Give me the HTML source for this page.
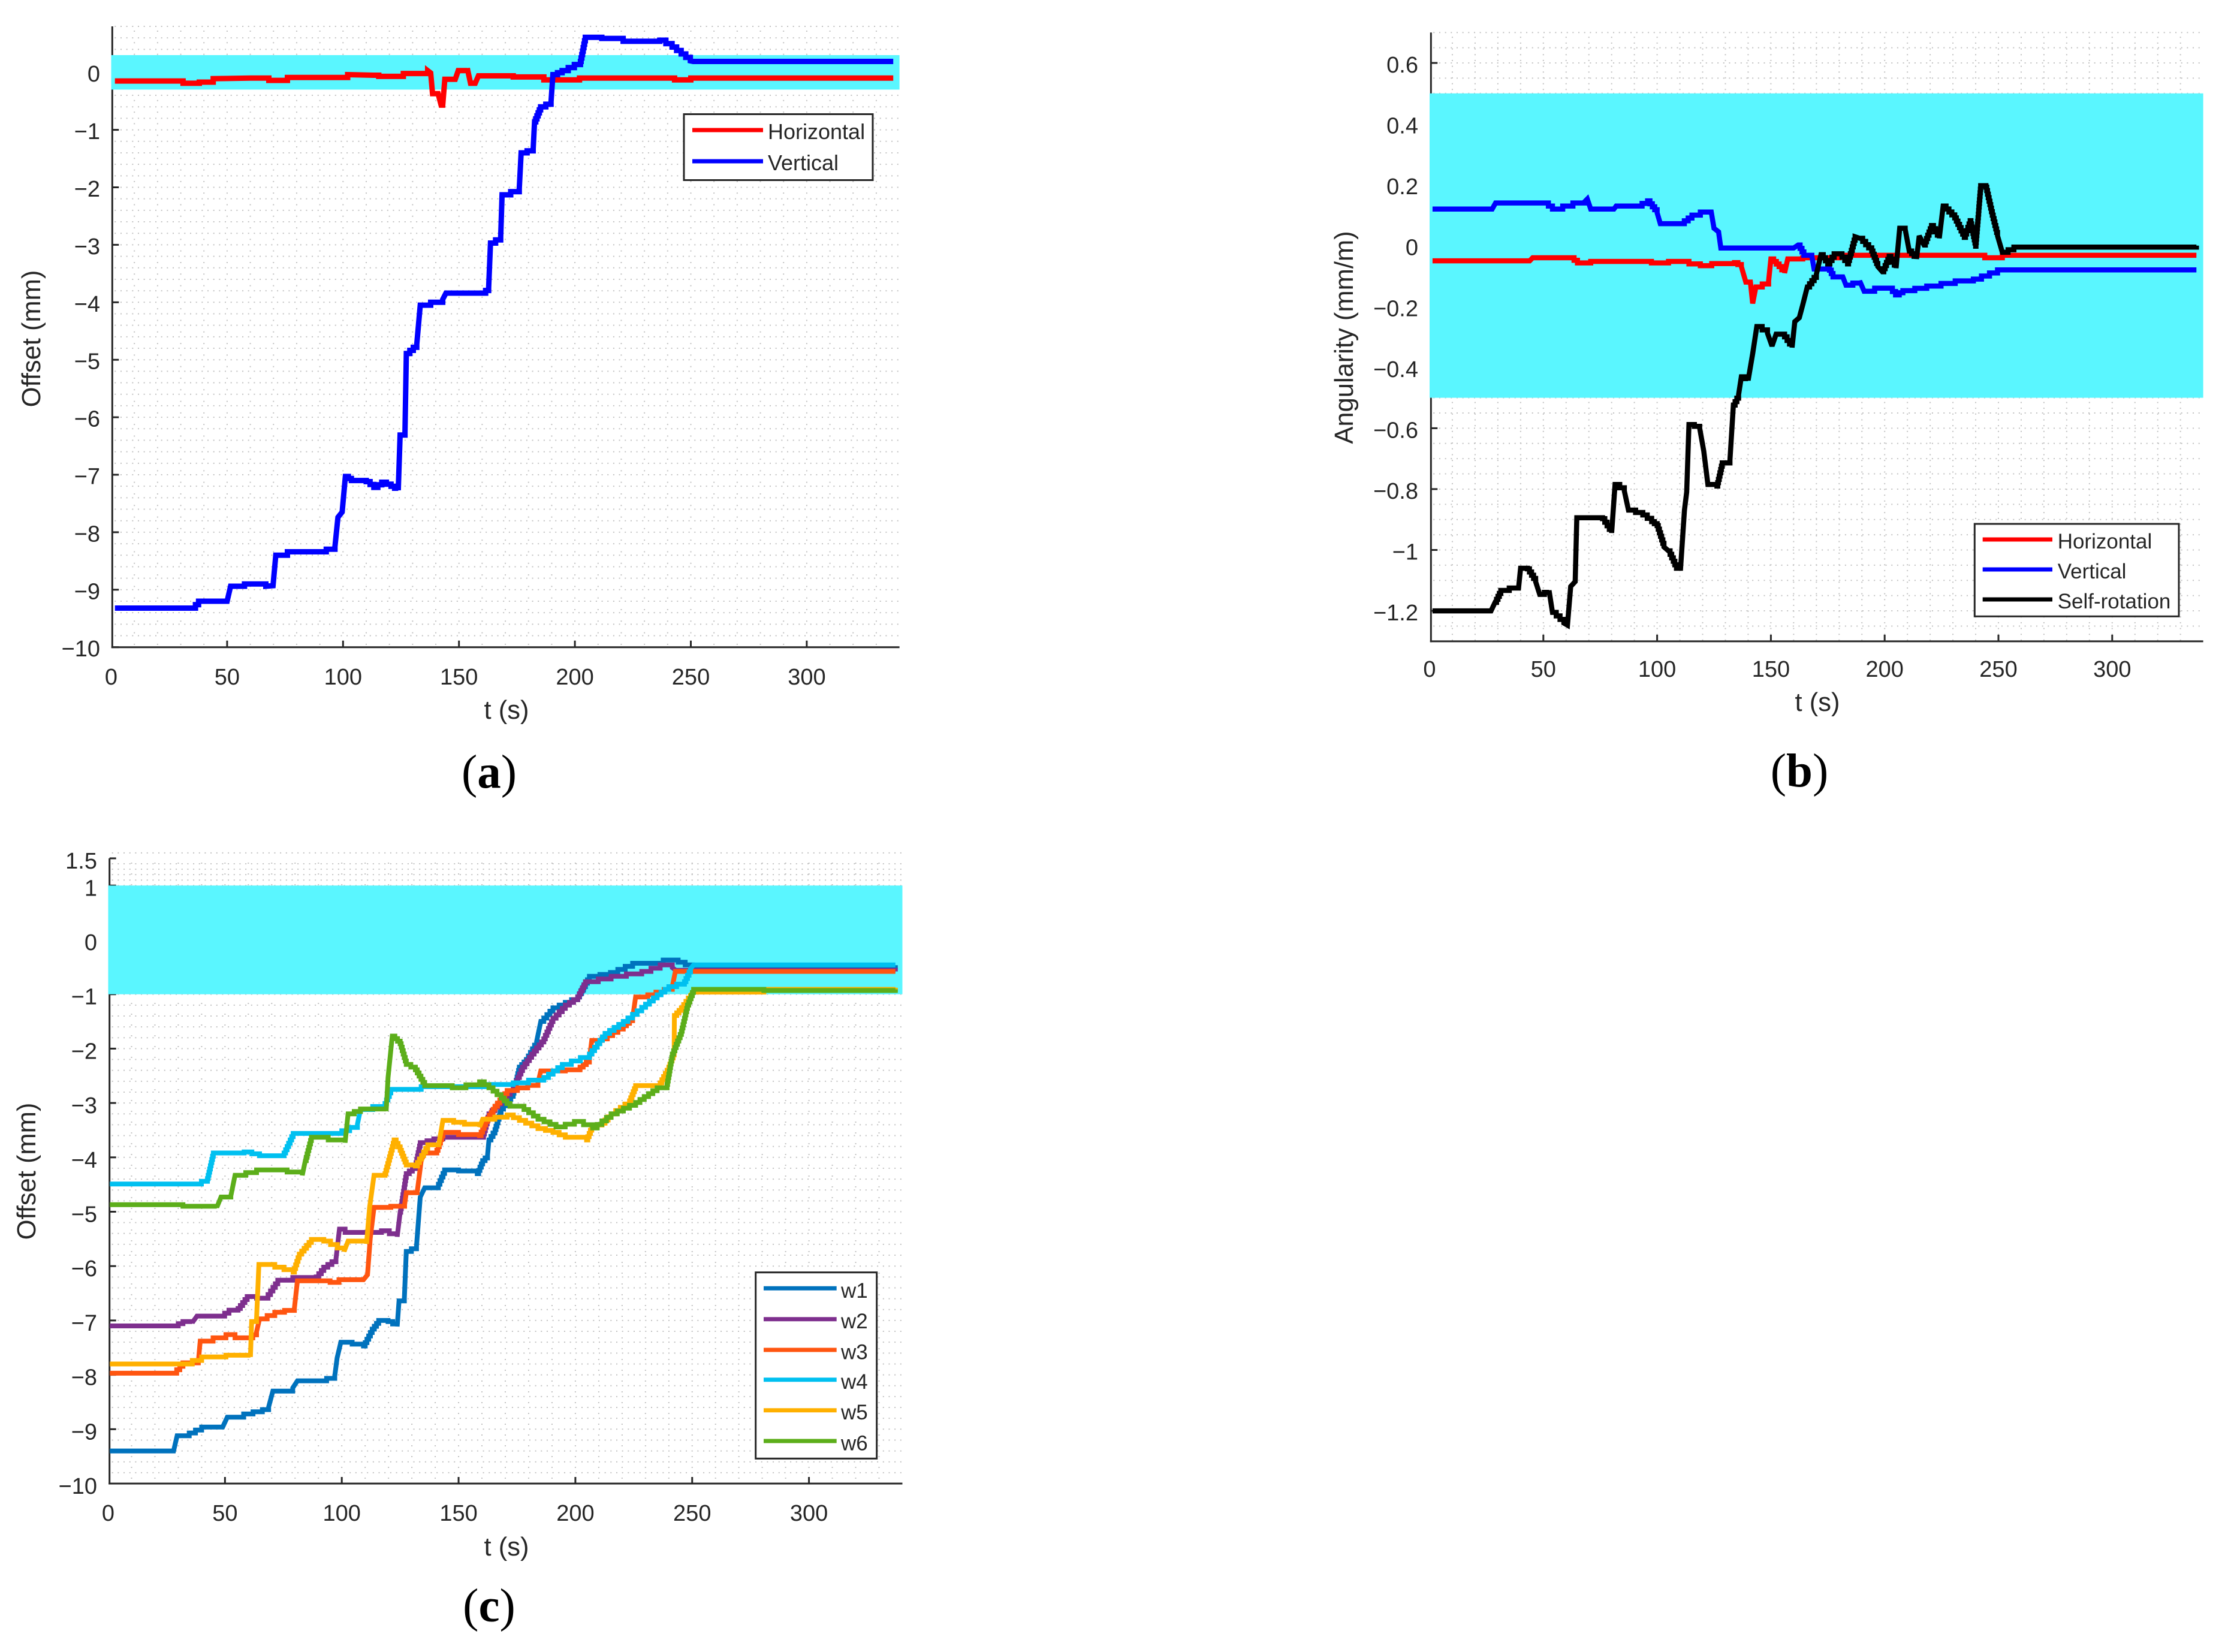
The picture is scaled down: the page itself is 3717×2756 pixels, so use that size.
<!DOCTYPE html>
<html lang="en">
<head>
<meta charset="utf-8">
<title>Offset and angularity charts</title>
<style>
html,body{margin:0;padding:0;background:#fff;}
svg{display:block;}
text{font-family:"Liberation Sans",sans-serif;fill:#262626;}
.cap{font-family:"Liberation Serif",serif;fill:#000;}
</style>
</head>
<body>
<svg id="figure" xmlns="http://www.w3.org/2000/svg" width="3717" height="2756" viewBox="0 0 3717 2756">
<rect width="3717" height="2756" fill="#fff"/>
</svg>
<script>
const xTickValues=[0,50,100,150,200,250,300];
const aYTicks=[-10,-9,-8,-7,-6,-5,-4,-3,-2,-1,0];
const bYTicks=[-1.2,-1,-0.8,-0.6,-0.4,-0.2,0,0.2,0.4,0.6];
const cYTicks=[-10,-9,-8,-7,-6,-5,-4,-3,-2,-1,0,1,1.5];

const aVertical=[[1.6,-9.32],[35,-9.32],[37.7,-9.2],[50,-9.2],[51.5,-8.94],[57.5,-8.9],[66.7,-8.94],[69.8,-8.93],[71,-8.4],[76,-8.34],[89,-8.34],[96.5,-8.25],[97.8,-7.74],[99.6,-7.65],[101,-7.03],[103.6,-7.1],[110,-7.12],[113.3,-7.22],[116.7,-7.13],[120.7,-7.2],[123.8,-7.27],[124.6,-6.31],[126.7,-6.27],[127.3,-4.89],[131.8,-4.73],[133.3,-4.05],[137.8,-4],[143,-3.95],[144.4,-3.84],[160.2,-3.84],[162.8,-3.75],[163.6,-2.97],[168,-2.86],[168.6,-2.13],[176,-2.02],[176.8,-1.4],[182,-1.33],[182.6,-0.86],[185.2,-0.6],[189.7,-0.51],[190.5,-0.04],[194.5,0.03],[202.4,0.19],[204.5,0.61],[211.6,0.59],[220.8,0.54],[236.6,0.56],[241.9,0.44],[249.8,0.2],[251,0.19],[337.3,0.19]];
const aHorizontal=[[1.6,-0.15],[23,-0.15],[31,-0.19],[38,-0.17],[44,-0.11],[60,-0.1],[68,-0.14],[76,-0.09],[89,-0.09],[102,-0.04],[113,-0.05],[115.4,-0.07],[126,-0.02],[136.5,0.03],[137.8,-0.01],[138.6,-0.37],[141,-0.37],[142.3,-0.57],[143,-0.57],[143.9,-0.12],[148.4,-0.12],[149.7,0.03],[153.6,0.07],[155,-0.19],[157,-0.19],[158.4,-0.06],[173.4,-0.08],[186.6,-0.13],[202,-0.1],[228.7,-0.1],[243,-0.13],[250,-0.1],[337.3,-0.1]];

const bHorizontal=[[1.3,-0.05],[44,-0.05],[45.3,-0.04],[62,-0.04],[65,-0.057],[70.8,-0.052],[86,-0.052],[97.5,-0.057],[105,-0.052],[114,-0.06],[119,-0.066],[124,-0.059],[134,-0.056],[137,-0.069],[139,-0.12],[141,-0.12],[142,-0.19],[143.4,-0.136],[149,-0.116],[150,-0.044],[153.6,-0.069],[156,-0.09],[157.4,-0.044],[164,-0.04],[180,-0.032],[239,-0.032],[244,-0.04],[251.7,-0.032],[337,-0.032]];
const bVertical=[[1.3,0.12],[27.5,0.12],[29,0.14],[39,0.14],[50.4,0.14],[54,0.12],[63,0.14],[68,0.143],[69.3,0.153],[70.8,0.12],[81,0.12],[82,0.13],[91,0.13],[95.8,0.147],[100,0.108],[101.4,0.072],[110.3,0.072],[115.3,0.1],[119,0.11],[123.8,0.11],[125,0.057],[127,0.045],[128,-0.008],[150,-0.008],[160,-0.008],[162,0.002],[164.5,-0.032],[168,-0.035],[169,-0.077],[175,-0.07],[177.3,-0.103],[181.6,-0.103],[183,-0.13],[189,-0.116],[191,-0.15],[195.6,-0.14],[202,-0.14],[204.8,-0.162],[208,-0.148],[218.5,-0.133],[231,-0.116],[239,-0.11],[249.6,-0.08],[337,-0.08]];
const bSelfRotation=[[1.3,-1.2],[27,-1.2],[28.8,-1.172],[31.3,-1.133],[35,-1.125],[39,-1.133],[40,-1.06],[43,-1.062],[46.6,-1.104],[48.4,-1.146],[52.5,-1.133],[54,-1.205],[59,-1.24],[60.6,-1.247],[62,-1.12],[64,-1.104],[64.7,-0.894],[76,-0.897],[80,-0.944],[81.5,-0.785],[85.6,-0.806],[87.4,-0.869],[93.7,-0.885],[97.6,-0.907],[100,-0.92],[103,-0.99],[105,-1.003],[108.5,-1.06],[110.3,-1.06],[112,-0.869],[113,-0.81],[114,-0.588],[118.7,-0.6],[120.5,-0.675],[122.3,-0.785],[126.3,-0.79],[128.6,-0.714],[132,-0.704],[133.5,-0.524],[135.8,-0.49],[137,-0.431],[140,-0.443],[142,-0.355],[143.8,-0.266],[148.5,-0.288],[150.5,-0.33],[152.3,-0.291],[156,-0.3],[159.3,-0.335],[160.5,-0.25],[162.5,-0.237],[164,-0.195],[166,-0.136],[170,-0.094],[172,-0.03],[175,-0.06],[177.8,-0.027],[180,-0.027],[183.7,-0.06],[187,0.029],[189,0.024],[194.3,-0.018],[197,-0.069],[199,-0.086],[202,-0.035],[205,-0.074],[206.6,0.057],[209,0.054],[210.8,-0.018],[214,-0.044],[215.2,0.032],[217.3,0.002],[220.6,0.066],[224,0.024],[225.7,0.13],[230.8,0.091],[235,0.027],[237.6,0.082],[240,-0.002],[242.2,0.197],[244.5,0.192],[247.3,0.1],[249.6,0.032],[251.7,-0.022],[256.8,-0.005],[267,-0.005],[337,0]];

const cW1=[[0.7,-9.4],[28,-9.4],[29.5,-9.12],[34.7,-9.07],[40,-8.96],[49,-8.96],[51,-8.78],[58,-8.72],[66,-8.64],[68.7,-8.59],[70.5,-8.3],[79,-8.24],[81,-8.11],[90,-8.11],[97,-8.02],[98,-7.69],[99.6,-7.4],[109.3,-7.47],[113,-7.16],[115.8,-7],[119.8,-7.02],[123.7,-7.11],[124.5,-6.64],[126.8,-6.59],[127.6,-5.73],[132,-5.63],[133.6,-4.73],[135.5,-4.56],[140.7,-4.56],[144,-4.23],[150,-4.25],[158,-4.3],[160.3,-4.06],[162.4,-3.96],[163,-3.68],[165.6,-3.49],[168.2,-3.11],[173.4,-2.82],[176,-2.34],[179,-2.2],[183.4,-1.87],[185.2,-1.5],[190.4,-1.25],[201,-1.05],[206,-0.67],[215,-0.6],[224.5,-0.43],[237.6,-0.37],[244,-0.41],[250,-0.51],[337,-0.53]];
const cW2=[[0.7,-7.1],[28,-7.1],[32,-7.02],[36,-7.04],[38,-6.92],[48,-6.92],[51.7,-6.81],[55.6,-6.78],[59.5,-6.56],[63.5,-6.59],[67.4,-6.59],[72.6,-6.26],[79,-6.21],[88,-6.26],[92.3,-6.02],[97.5,-5.87],[99,-5.32],[101.4,-5.38],[109.3,-5.38],[117,-5.35],[123.7,-5.46],[125,-5.01],[127.6,-4.3],[131.5,-4.16],[133.6,-3.73],[139.4,-3.66],[143.3,-3.63],[160.3,-3.63],[163,-3.2],[168.2,-2.96],[173.4,-2.72],[177.4,-2.34],[181.3,-2.1],[186.5,-1.82],[190.4,-1.44],[195.7,-1.2],[201,-1.05],[204.3,-0.77],[215.3,-0.67],[228.4,-0.58],[236.3,-0.46],[241.5,-0.51],[243,-0.56],[337,-0.58]];
const cW3=[[0.7,-7.97],[28,-7.97],[32,-7.78],[38.6,-7.76],[39.4,-7.38],[50.4,-7.26],[54.3,-7.32],[60.3,-7.32],[63.5,-7.21],[64.8,-6.97],[71.3,-6.85],[79.7,-6.78],[81,-6.27],[95,-6.3],[98.8,-6.25],[109.3,-6.25],[111,-6.16],[112.2,-5.49],[113.8,-4.92],[121,-4.9],[126.9,-4.87],[127.6,-4.65],[132.3,-4.63],[134,-4.06],[135.5,-3.92],[140.7,-3.87],[143.3,-3.54],[150,-3.58],[159,-3.6],[161.6,-3.34],[165.6,-3.06],[170.8,-2.77],[184,-2.63],[185.2,-2.41],[195.7,-2.39],[202,-2.34],[206,-2.2],[207,-1.85],[211.4,-1.82],[220.5,-1.58],[224.5,-1.44],[225.8,-1.05],[231,-1.01],[241.5,-0.86],[242.8,-0.58],[337,-0.58]];
const cW4=[[0.7,-4.49],[37.3,-4.49],[42.5,-4.39],[45,-3.92],[58.2,-3.9],[64.8,-3.97],[75.3,-3.92],[79.2,-3.56],[100,-3.51],[106.7,-3.39],[108,-3.12],[118.5,-3.01],[121,-2.75],[134,-2.7],[163,-2.66],[173.4,-2.63],[186.5,-2.53],[194.4,-2.29],[206,-2.1],[212.7,-1.72],[220.5,-1.5],[228.4,-1.24],[235,-1.01],[240,-0.86],[246.7,-0.77],[249.3,-0.53],[250.6,-0.46],[337,-0.46]];
const cW5=[[0.7,-7.8],[32,-7.8],[40,-7.67],[50.4,-7.64],[60.9,-7.67],[61.4,-7.02],[63.5,-6.97],[64.5,-5.97],[71.3,-6.02],[79.2,-6.11],[81.8,-5.78],[87,-5.51],[92.3,-5.54],[101,-5.73],[102.7,-5.54],[110.6,-5.59],[111.9,-4.92],[113.8,-4.33],[118.5,-4.3],[122.4,-3.68],[125,-3.87],[127.6,-4.14],[131.5,-4.16],[136.8,-3.77],[141.5,-3.77],[143.3,-3.32],[152.5,-3.39],[159,-3.44],[160.3,-3.3],[170.8,-3.22],[178.7,-3.37],[184,-3.47],[190.4,-3.54],[195.7,-3.63],[204.8,-3.68],[207,-3.44],[211.4,-3.37],[215.3,-3.2],[223.2,-2.96],[225.8,-2.68],[236.3,-2.63],[240,-2.34],[242.3,-2.06],[242.4,-1.39],[245.4,-1.25],[249.3,-1.01],[250.6,-0.96],[280.7,-0.91],[337,-0.88]];
const cW6=[[0.7,-4.87],[26.8,-4.87],[32,-4.9],[46.5,-4.92],[48.3,-4.73],[52.5,-4.71],[54.3,-4.33],[63.5,-4.23],[76.6,-4.27],[83.1,-4.33],[84.4,-4.06],[87,-3.63],[101.4,-3.73],[102.7,-3.2],[108,-3.11],[119,-3.15],[119.8,-2.53],[121.6,-1.77],[125,-1.91],[127.6,-2.29],[131.5,-2.39],[135.5,-2.68],[147.3,-2.72],[159,-2.61],[163,-2.72],[168.2,-2.91],[172,-3.06],[176,-3.06],[184,-3.3],[191.7,-3.44],[199.6,-3.34],[207.4,-3.46],[215.3,-3.2],[225.8,-2.99],[235,-2.72],[239,-2.72],[241.5,-2.1],[245.4,-1.68],[248,-1.2],[250.6,-0.91],[280.7,-0.93],[337,-0.91]];

const svgNS='http://www.w3.org/2000/svg';
const root=document.getElementById('figure');
const axisColor='#262626';
const gridColor='#c2c2c2';
const bandColor='#5af6ff';

function mk(parent,tag,attrs){
  const el=document.createElementNS(svgNS,tag);
  for(const k in attrs){el.setAttribute(k,attrs[k]);}
  parent.appendChild(el);
  return el;
}
function fmt(v){return String(v).replace('-','\u2212');}

/* staircase path: sloped runs between samples are drawn in small sensor-like steps */
function stepPath(data,X,Y){
  let d='M'+X(data[0][0]).toFixed(1)+' '+Y(data[0][1]).toFixed(1);
  for(let i=1;i<data.length;i++){
    const xa=X(data[i-1][0]),ya=Y(data[i-1][1]),xb=X(data[i][0]),yb=Y(data[i][1]);
    const dx=xb-xa,dy=yb-ya;
    if(Math.abs(dy)<1||dx<8){
      d+='L'+xb.toFixed(1)+' '+yb.toFixed(1);
      continue;
    }
    const n=Math.max(1,Math.ceil(Math.abs(dy)/6));
    for(let s=1;s<=n;s++){
      const f=s/n;
      d+='H'+(xa+dx*f).toFixed(1)+'V'+(ya+dy*f).toFixed(1);
    }
  }
  return d;
}

function drawPanel(p){
  const g=mk(root,'g',{});
  
  
  const X=t=>p.x0+p.sx*t;
  const Y=v=>p.y0-p.sy*v;
  const top=Y(p.yMax),bottom=Y(p.yMin),right=X(340);

  /* minor grid */
  const gridG=mk(g,'g',{stroke:gridColor,'stroke-width':2,fill:'none'});
  
  
  for(let k=10;k<340;k+=10){
    const ln=mk(gridG,'line',{x1:X(k),x2:X(k),y1:top+p.colStart,y2:bottom,'stroke-dasharray':'2 '+(p.colPeriod-2)});
    
    
  }
  const rowCount=Math.round((p.yMax-p.yMin)/p.rowStep);
  for(let r=0;r<=rowCount;r++){
    const v=p.yMin+r*p.rowStep;
    if(r===0)continue;
    const ln=mk(gridG,'line',{x1:p.axisX+4,x2:right,y1:Y(v),y2:Y(v),'stroke-dasharray':'2 7.67'});
    
    
  }
  if(p.extraRows){
    for(let v=p.extraRows[0];v<p.extraRows[1];v+=p.extraRows[2]){
      const ln=mk(gridG,'line',{x1:p.axisX+4,x2:right,y1:Y(v),y2:Y(v),'stroke-dasharray':'2 7.67'});
      
      
    }
  }

  /* axes */
  const yAxis=mk(g,'line',{x1:p.axisX,x2:p.axisX,y1:top,y2:bottom+1.5,stroke:axisColor,'stroke-width':3});
  
  
  const xAxis=mk(g,'line',{x1:p.axisX-1.5,x2:right,y1:bottom,y2:bottom,stroke:axisColor,'stroke-width':3});
  
  

  xTickValues.forEach(t=>{
    if(t!==0){
      const m=mk(g,'line',{x1:X(t),x2:X(t),y1:bottom,y2:bottom-11,stroke:axisColor,'stroke-width':3});
      
      
    }
    const lb=mk(g,'text',{x:X(t)+p.xLabelShift,y:p.xLabelY,'text-anchor':'middle','font-size':38});
    
    
    lb.textContent=fmt(t);
  });
  p.yTicks.forEach(v=>{
    const m=mk(g,'line',{x1:p.axisX,x2:p.axisX+11,y1:Y(v),y2:Y(v),stroke:axisColor,'stroke-width':3});
    
    
    const lb=mk(g,'text',{x:p.yLabelX,y:Y(v)+p.yLabelDy,'text-anchor':'end','font-size':38});
    
    
    lb.textContent=fmt(v);
  });

  /* tolerance band */
  const band=mk(g,'rect',{x:p.x0,y:Y(p.band[1]),width:right-p.x0,height:Y(p.band[0])-Y(p.band[1]),fill:bandColor});
  
  

  /* series */
  p.series.forEach(s=>{
    const d=stepPath(s.data,X,Y);
    const path=mk(g,'path',{d:d,fill:'none',stroke:s.color,'stroke-width':p.lineWidth,'stroke-linejoin':'miter','stroke-miterlimit':3});
    
    
  });

  /* axis titles */
  const xt=mk(g,'text',{x:p.xTitle[0],y:p.xTitle[1],'text-anchor':'middle','font-size':43.5});
  
  
  xt.textContent='t (s)';
  const yt=mk(g,'text',{x:0,y:0,'text-anchor':'middle','font-size':43.5,transform:'translate('+p.yTitle[0]+' '+p.yTitle[1]+') rotate(-90)'});
  
  
  yt.textContent=p.yTitleText;

  /* legend */
  const L=p.legend;
  const lg=mk(g,'g',{});
  
  
  mk(lg,'rect',{x:L.x,y:L.y,width:L.w,height:L.h,fill:'#fff',stroke:axisColor,'stroke-width':3});
  p.series.forEach((s,i)=>{
    const entry=mk(lg,'g',{});
    
    
    const ly=L.rows[i];
    mk(entry,'line',{x1:L.lineX[0],x2:L.lineX[1],y1:ly,y2:ly,stroke:s.color,'stroke-width':7});
    const t=mk(entry,'text',{x:L.textX,y:ly+L.textDy,'font-size':L.font});
    t.textContent=s.label;
  });

  /* caption */
  const cap=mk(g,'text',{x:p.cap[0],y:p.cap[1],'text-anchor':'middle','font-size':79,class:'cap'});
  
  
  cap.appendChild(document.createTextNode('('));
  const bold=mk(cap,'tspan',{'font-weight':'bold'});
  bold.textContent=p.capLetter;
  cap.appendChild(document.createTextNode(')'));
}

drawPanel({
  id:'panel-a',x0:185.5,sx:3.868,y0:120.7,sy:95.9,yMin:-10,yMax:0.8,axisX:187.3,
  rowStep:0.2,colPeriod:19.3,colStart:7,band:[-0.3,0.3],yTicks:aYTicks,lineWidth:9,
  xLabelShift:0,xLabelY:1142,yLabelX:167,yLabelDy:15.5,
  xTitle:[845,1199],yTitle:[67,565],yTitleText:'Offset (mm)',
  legend:{x:1141,y:190.5,w:315,h:110,font:36,lineX:[1155,1273],textX:1281,textDy:15,rows:[217,269]},
  cap:[816,1314],capLetter:'a',
  series:[
    {key:'horizontal',label:'Horizontal',color:'#ff0000',data:aHorizontal},
    {key:'vertical',label:'Vertical',color:'#0000ff',data:aVertical}
  ]
});
drawPanel({
  id:'panel-b',x0:2385,sx:3.796,y0:409.7,sy:507.8,yMin:-1.3,yMax:0.7,axisX:2387.3,
  rowStep:0.05,colPeriod:9.67,colStart:7,band:[-0.5,0.5],yTicks:bYTicks,lineWidth:8.5,
  xLabelShift:0,xLabelY:1129,yLabelX:2366,yLabelDy:16,
  xTitle:[3032,1186],yTitle:[2257,563],yTitleText:'Angularity (mm/m)',
  legend:{x:3294.3,y:874,w:340.7,h:154.3,font:35,lineX:[3307.7,3424],textX:3432.7,textDy:15,rows:[900,950,1000]},
  cap:[3002,1312],capLetter:'b',
  series:[
    {key:'horizontal',label:'Horizontal',color:'#ff0000',data:bHorizontal},
    {key:'vertical',label:'Vertical',color:'#0000ff',data:bVertical},
    {key:'self-rotation',label:'Self-rotation',color:'#000000',data:bSelfRotation}
  ]
});
drawPanel({
  id:'panel-c',x0:180.5,sx:3.897,y0:1568,sy:90.7,yMin:-10,yMax:1.5,axisX:182.7,
  rowStep:0.2,colPeriod:18,colStart:7,band:[-1,1],yTicks:cYTicks,lineWidth:8,extraRows:[1.1,1.5,0.2],
  xLabelShift:0,xLabelY:2537,yLabelX:162,yLabelDy:17,
  xTitle:[845,2595],yTitle:[59,1954],yTitleText:'Offset (mm)',
  legend:{x:1260.7,y:2122.7,w:202,h:310.6,font:35,lineX:[1274,1395.7],textX:1403,textDy:15.5,rows:[2149.3,2200.7,2252,2301.7,2352.7,2404]},
  cap:[816,2705],capLetter:'c',
  series:[
    {key:'w1',label:'w1',color:'#0072bd',data:cW1},
    {key:'w2',label:'w2',color:'#7e2f8e',data:cW2},
    {key:'w3',label:'w3',color:'#ff5510',data:cW3},
    {key:'w4',label:'w4',color:'#00c0f0',data:cW4},
    {key:'w5',label:'w5',color:'#ffb000',data:cW5},
    {key:'w6',label:'w6',color:'#5cae1a',data:cW6}
  ]
});
</script>
</body>
</html>
